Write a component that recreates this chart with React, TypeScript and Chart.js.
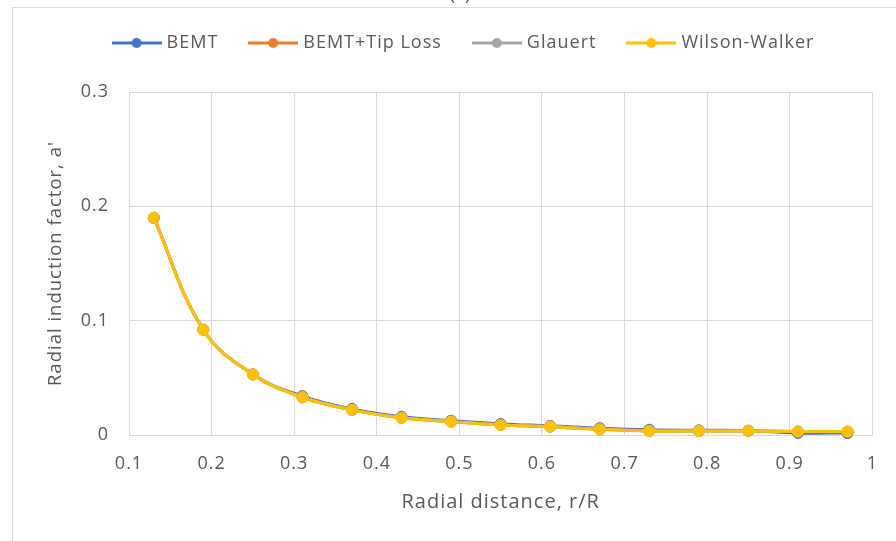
import React, { useEffect, useRef } from "react";
import { Chart, registerables } from "chart.js";

Chart.register(...registerables);

// ---- data ----
const radialDistance = [0.13, 0.19, 0.25, 0.31, 0.37, 0.43, 0.49, 0.55, 0.61, 0.67, 0.73, 0.79, 0.85, 0.91, 0.97];
const bemt = [0.19, 0.092, 0.053, 0.034, 0.0228, 0.016, 0.0125, 0.0097, 0.008, 0.006, 0.0046, 0.0041, 0.0038, 0.0018, 0.0017];
const bemtTipLoss = [0.19, 0.092, 0.053, 0.033, 0.022, 0.015, 0.0117, 0.0088, 0.0073, 0.005, 0.0036, 0.0035, 0.0034, 0.003, 0.0029];
const glauert = [0.19, 0.092, 0.053, 0.033, 0.022, 0.0152, 0.0118, 0.0088, 0.0074, 0.0051, 0.0036, 0.0035, 0.0035, 0.0031, 0.003];
const wilsonWalker = [0.19, 0.092, 0.053, 0.033, 0.022, 0.015, 0.0117, 0.0087, 0.0073, 0.005, 0.0035, 0.0035, 0.0035, 0.003, 0.003];

const seriesNames = ["BEMT", "BEMT+Tip Loss", "Glauert", "Wilson-Walker"];
const seriesColors = ["#4472C4", "#ED7D31", "#A5A5A5", "#FFC000"];

const xTickValues = [0.1, 0.2, 0.3, 0.4, 0.5, 0.6, 0.7, 0.8, 0.9, 1];
const xTickLabels = ["0.1", "0.2", "0.3", "0.4", "0.5", "0.6", "0.7", "0.8", "0.9", "1"];
const yTickValues = [0, 0.1, 0.2, 0.3];
const yTickLabels = ["0", "0.1", "0.2", "0.3"];

const xTitle = "Radial distance, r/R";
const yTitle = "Radial induction factor, a'";
const panelLabel = "(a)";

const FONT = "'Open Sans', sans-serif";
const TEXT = "#595959";
const GRID = "#d9d9d9";

function makeLegendIcon(color: string) {
  const c = document.createElement("canvas");
  c.width = 50;
  c.height = 14;
  const ctx = c.getContext("2d")!;
  ctx.strokeStyle = color;
  ctx.lineWidth = 3;
  ctx.beginPath();
  ctx.moveTo(0, 7);
  ctx.lineTo(50, 7);
  ctx.stroke();
  ctx.fillStyle = color;
  ctx.beginPath();
  ctx.arc(25, 7, 5, 0, Math.PI * 2);
  ctx.fill();
  return c;
}

const legendTweaks = {
  id: "legendTweaks",
  beforeInit(chart: any) {
    const legend = chart.legend;
    if (!legend) return;
    const orig = legend.fit;
    legend.fit = function () {
      orig.call(this);
      this.height += 30;
    };
  },
  beforeUpdate(chart: any) {
    (chart.ctx as any).letterSpacing = "1px";
  },
  beforeDraw(chart: any) {
    (chart.ctx as any).letterSpacing = "1px";
  },
  afterLayout(chart: any) {
    const legend = chart.legend;
    if (!legend) return;
    legend.left += 27;
    legend.right += 27;
  },
};

export default function App() {
  const ref = useRef<HTMLCanvasElement>(null);

  useEffect(() => {
    if (!ref.current) return;
    const series = [bemt, bemtTipLoss, glauert, wilsonWalker];
    const icons = seriesColors.map((c) => makeLegendIcon(c));
    const datasets = series.map((vals, i) => ({
      label: seriesNames[i],
      data: radialDistance.map((x, j) => ({ x, y: vals[j] })),
      borderColor: seriesColors[i],
      backgroundColor: seriesColors[i],
      pointBackgroundColor: seriesColors[i],
      pointBorderColor: seriesColors[i],
      borderWidth: 3,
      pointRadius: 5.5,
      pointBorderWidth: 1,
      pointStyle: "circle" as const,
      tension: 0.4,
      order: series.length - i,
      clip: false as const,
    }));

    const chart = new Chart(ref.current, {
      type: "line",
      data: { datasets },
      options: {
        responsive: false,
        animation: false,
        layout: { padding: { top: 0, right: 20, bottom: 0, left: 0 } },
        plugins: {
          legend: {
            position: "top",
            labels: {
              usePointStyle: true,
              pointStyleWidth: 42,
              padding: 34,
              color: TEXT,
              font: { family: FONT, size: 18 },
              generateLabels: (c: any) => {
                const items = (Chart.defaults.plugins.legend.labels as any).generateLabels(c);
                return items.map((it: any) => ({ ...it, pointStyle: icons[it.datasetIndex] }));
              },
              sort: (a: any, b: any) => a.datasetIndex - b.datasetIndex,
            },
          },
          tooltip: { enabled: false },
        },
        scales: {
          x: {
            type: "linear",
            min: 0.1,
            max: 1,
            afterBuildTicks: (s: any) => {
              s.ticks = xTickValues.map((v) => ({ value: v }));
            },
            afterFit: (s: any) => {
              s.height = 106;
            },
            ticks: {
              callback: (_v: any, i: number) => xTickLabels[i],
              padding: 18,
              color: TEXT,
              font: { family: FONT, size: 18 },
              maxRotation: 0,
              autoSkip: false,
            },
            grid: { color: GRID, drawTicks: false },
            border: { color: GRID },
            title: {
              display: true,
              text: xTitle,
              color: TEXT,
              font: { family: FONT, size: 20 },
              padding: { top: 0, bottom: 27 },
            },
          },
          y: {
            type: "linear",
            min: 0,
            max: 0.3,
            afterBuildTicks: (s: any) => {
              s.ticks = yTickValues.map((v) => ({ value: v }));
            },
            afterFit: (s: any) => {
              s.width = 129;
            },
            ticks: {
              callback: (_v: any, i: number) => yTickLabels[i],
              padding: 20,
              color: TEXT,
              font: { family: FONT, size: 18 },
              autoSkip: false,
            },
            grid: { color: GRID, drawTicks: false },
            border: { color: GRID },
            title: {
              display: true,
              text: yTitle,
              color: TEXT,
              font: { family: FONT, size: 18.5 },
              padding: { top: 45, bottom: 0 },
            },
          },
        },
      },
      plugins: [legendTweaks],
    });
    return () => chart.destroy();
  }, []);

  return (
    <div style={{ position: "fixed", left: 0, top: 0, width: 896, height: 541, overflow: "hidden", background: "#fff" }}>
      <canvas ref={ref} width={896} height={541} style={{ position: "absolute", left: 0, top: 0, width: 896, height: 541 }} />
      <div
        style={{
          position: "absolute",
          left: 12,
          top: 7,
          width: 1000,
          height: 1000,
          borderLeft: `1px solid ${GRID}`,
          borderTop: `1px solid ${GRID}`,
          pointerEvents: "none",
        }}
      />
      <div
        style={{
          position: "absolute",
          left: 410,
          width: 100,
          top: -16,
          textAlign: "center",
          fontFamily: FONT,
          fontSize: 18,
          lineHeight: "18px",
          color: TEXT,
        }}
      >
        {panelLabel}
      </div>
    </div>
  );
}
